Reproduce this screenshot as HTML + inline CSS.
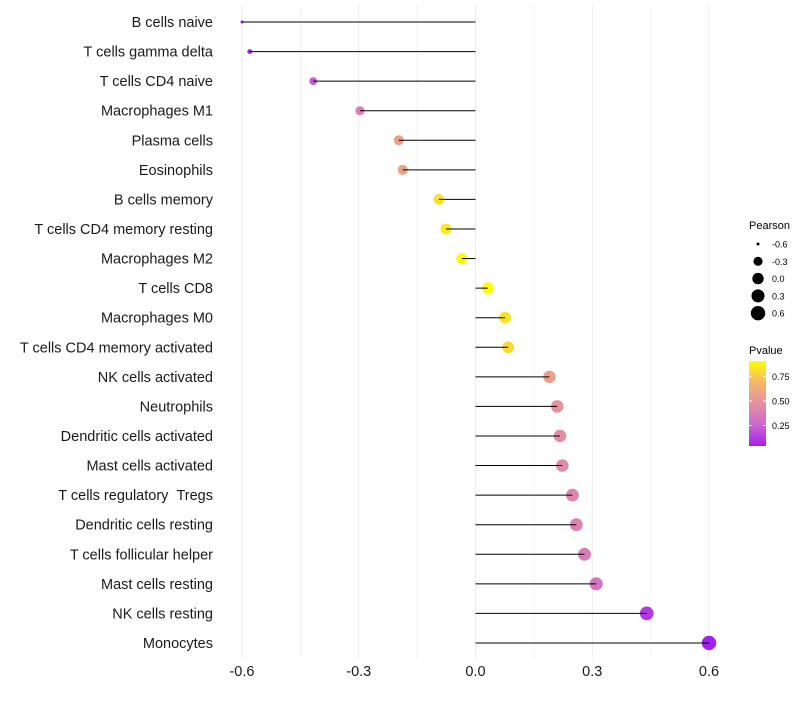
<!DOCTYPE html>
<html><head><meta charset="utf-8"><style>
body{margin:0;background:#fff;font-family:"Liberation Sans",sans-serif}
</style></head><body>
<svg id="c" width="800" height="700" xmlns="http://www.w3.org/2000/svg" font-family="Liberation Sans, sans-serif"></svg>
<script>
const categories=["B cells naive","T cells gamma delta","T cells CD4 naive","Macrophages M1","Plasma cells","Eosinophils","B cells memory","T cells CD4 memory resting","Macrophages M2","T cells CD8","Macrophages M0","T cells CD4 memory activated","NK cells activated","Neutrophils","Dendritic cells activated","Mast cells activated","T cells regulatory \u00a0Tregs","Dendritic cells resting","T cells follicular helper","Mast cells resting","NK cells resting","Monocytes"];
const pearson=[-0.60,-0.58,-0.417,-0.297,-0.197,-0.187,-0.094,-0.076,-0.035,0.032,0.076,0.084,0.19,0.21,0.217,0.223,0.249,0.259,0.28,0.31,0.44,0.60];
const pvalue=[0.03,0.05,0.22,0.38,0.56,0.58,0.82,0.85,0.93,0.93,0.82,0.8,0.56,0.48,0.46,0.45,0.41,0.4,0.37,0.33,0.12,0.03];
const xTicks=[-0.6,-0.3,0.0,0.3,0.6];
const xTickLabels=["-0.6","-0.3","0.0","0.3","0.6"];
const sizeLegend=[-0.6,-0.3,0.0,0.3,0.6];
const colorTicks=[0.25,0.5,0.75];

const svg=document.getElementById('c');const NS="http://www.w3.org/2000/svg";
function mk(t,a,p){const e=document.createElementNS(NS,t);for(const k in a)e.setAttribute(k,a[k]);(p||svg).appendChild(e);return e;}
const x=v=>475.5+v*389.2;
const y=i=>22+i*29.57;
const r=v=>1.5+5.7*Math.pow(Math.max(0,(v+0.6)/1.2),0.45);
const stops=[[160,32,240],[205,105,205],[226,145,160],[242,182,110],[255,255,0]];
function col(p){
 const t=Math.max(0,Math.min(1,(p-0.04)/0.87))*4;const k=Math.min(3,Math.floor(t));const s=t-k;
 const a=stops[k],b=stops[k+1];
 return `rgb(${a.map((v,i)=>Math.round(v+(b[i]-v)*s)).join(',')})`;}
for(let v=-0.6;v<=0.61;v+=0.15){const g=mk('line',{x1:x(v),x2:x(v),y1:5,y2:658,stroke:Math.abs(Math.round(v/0.15))%2==0?'#ebebeb':'#f4f4f4','stroke-width':1});
}
categories.forEach((c,i)=>{
 const yy=y(i);
 const t=mk('text',{x:213,y:yy+5,'text-anchor':'end','font-size':14.5,fill:'#1a1a1a'});t.textContent=c;
 
});
categories.forEach((c,i)=>{
 const yy=y(i);
 const d=mk('circle',{cx:x(pearson[i]),cy:yy,r:r(pearson[i]),fill:col(pvalue[i])});
 
 const l=mk('line',{x1:x(0),x2:x(pearson[i]),y1:yy,y2:yy,stroke:'#000','stroke-width':1});
 
});
xTicks.forEach((v,i)=>{const t=mk('text',{x:x(v),y:676,'text-anchor':'middle','font-size':14.5,fill:'#1a1a1a'});t.textContent=xTickLabels[i];
});
let t=mk('text',{x:749,y:229,'font-size':11});t.textContent='Pearson';
sizeLegend.forEach((v,i)=>{const yy=244+i*17.3;
 const c=mk('circle',{cx:758,cy:yy,r:r(v),fill:'#000'});
 const l=mk('text',{x:772,y:yy+3.5,'font-size':9});l.textContent=v.toFixed(1);});
t=mk('text',{x:749,y:354,'font-size':11});t.textContent='Pvalue';
const defs=mk('defs',{});const lg=mk('linearGradient',{id:'g',x1:0,y1:1,x2:0,y2:0},defs);
for(let k=0;k<=10;k++){mk('stop',{offset:k/10,'stop-color':col(0.04+0.87*k/10)},lg);}
const cb=mk('rect',{x:749,y:361,width:17,height:85,fill:'url(#g)'});
const cy=p=>446-(p-0.04)/0.87*85;
colorTicks.forEach(p=>{mk('line',{x1:749,x2:752,y1:cy(p),y2:cy(p),stroke:'#fff'});mk('line',{x1:763,x2:766,y1:cy(p),y2:cy(p),stroke:'#fff'});
 const l=mk('text',{x:772,y:cy(p)+3.5,'font-size':9});l.textContent=p.toFixed(2);});
</script>
</body></html>
